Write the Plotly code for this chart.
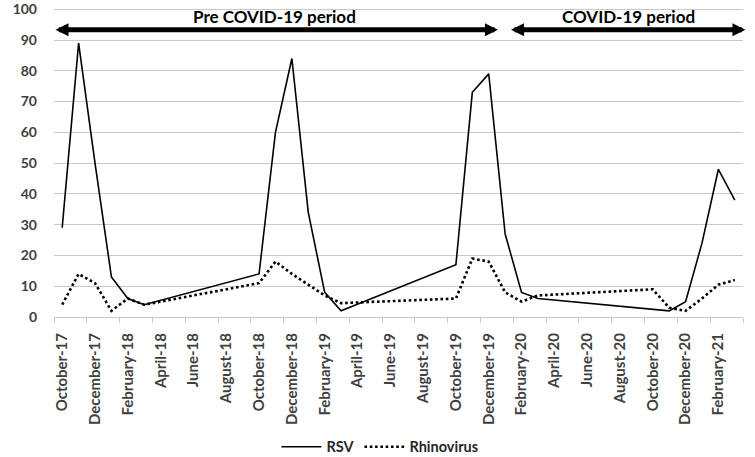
import plotly.graph_objects as go

months = [
    "October-17", "November-17", "December-17", "January-18", "February-18", "March-18",
    "April-18", "May-18", "June-18", "July-18", "August-18", "September-18",
    "October-18", "November-18", "December-18", "January-19", "February-19", "March-19",
    "April-19", "May-19", "June-19", "July-19", "August-19", "September-19",
    "October-19", "November-19", "December-19", "January-20", "February-20", "March-20",
    "April-20", "May-20", "June-20", "July-20", "August-20", "September-20",
    "October-20", "November-20", "December-20", "January-21", "February-21", "March-21",
]

rsv = [29, 89, 50, 13, 6, 4,
       None, None, None, None, None, None,
       14, 60, 84, 34, 8, 2,
       None, None, None, None, None, None,
       17, 73, 79, 27, 8, 6,
       None, None, None, None, None, None, None,
       2, 5, 24, 48, 38]

rhinovirus = [4, 14, 11, 2, 6, 4,
              None, None, None, None, None, None,
              11, 18, 14, 10.5, 7, 4.5,
              None, None, None, None, None, None,
              6, 19, 18, 8, 5, 7,
              None, None, None, None, None, None,
              9, 3, 2, 6, 10.5, 12]

FONT = "Lato"
GRID = "#c9c9c9"
TXT = "#404040"

fig = go.Figure()
fig.add_trace(go.Scatter(x=months, y=rsv, mode="lines", name="RSV",
                         connectgaps=True,
                         line=dict(color="black", width=1.6)))
fig.add_trace(go.Scatter(x=months, y=rhinovirus, mode="lines", name="Rhinovirus",
                         connectgaps=True,
                         line=dict(color="black", width=2.6, dash="2.6px,2.7px")))

# period arrows and labels
periods = [
    dict(label="Pre COVID-19 period", start=-0.5, end=26.56, text_x=12.95),
    dict(label="COVID-19 period", start=27.27, end=41.65, text_x=34.55),
]
for p in periods:
    fig.add_annotation(x=p["end"], y=93.3, ax=p["start"], ay=93.3,
                       xref="x", yref="y", axref="x", ayref="y",
                       text="", showarrow=True, arrowside="end+start",
                       arrowhead=2, arrowsize=0.52, arrowwidth=5,
                       arrowcolor="black", standoff=0, startstandoff=0)
    fig.add_annotation(x=p["text_x"], y=97.6, xref="x", yref="y",
                       text=p["label"], showarrow=False,
                       xanchor="center", yanchor="middle",
                       font=dict(family=FONT, size=17, color="black", weight="bold"))

fig.update_layout(
    width=755, height=457,
    margin=dict(l=54, r=12, t=8, b=140, autoexpand=False),
    plot_bgcolor="white", paper_bgcolor="white",
    font=dict(family=FONT, size=14, color=TXT, weight="bold"),
    showlegend=True,
    legend=dict(orientation="h", x=0.473, xanchor="center", y=-0.42, yanchor="middle",
                font=dict(family=FONT, size=14.5, color="#262626", weight="bold"),
                itemwidth=40, tracegroupgap=0),
    xaxis=dict(type="category", range=[-0.5, 41.5], automargin=False,
               tickmode="linear", tick0=0, dtick=2,
               tickson="boundaries", ticks="outside", ticklen=5, tickcolor=GRID,
               tickangle=-90, ticklabelstandoff=9,
               showgrid=False, showline=True, linecolor=GRID, linewidth=1,
               tickfont=dict(family=FONT, size=15, color=TXT, weight="bold")),
    yaxis=dict(range=[0, 100.4], tickmode="linear", tick0=0, dtick=10,
               showgrid=True, gridcolor=GRID, gridwidth=1,
               automargin=False, ticklabeloverflow="allow",
               zeroline=False, showline=False, ticks="",
               ticklabelstandoff=16,
               tickfont=dict(family=FONT, size=14, color=TXT, weight="bold")),
)

fig.write_html("out.html", config={"displayModeBar": False},
               post_script="document.body.style.margin='0';document.body.style.overflow='hidden';")
